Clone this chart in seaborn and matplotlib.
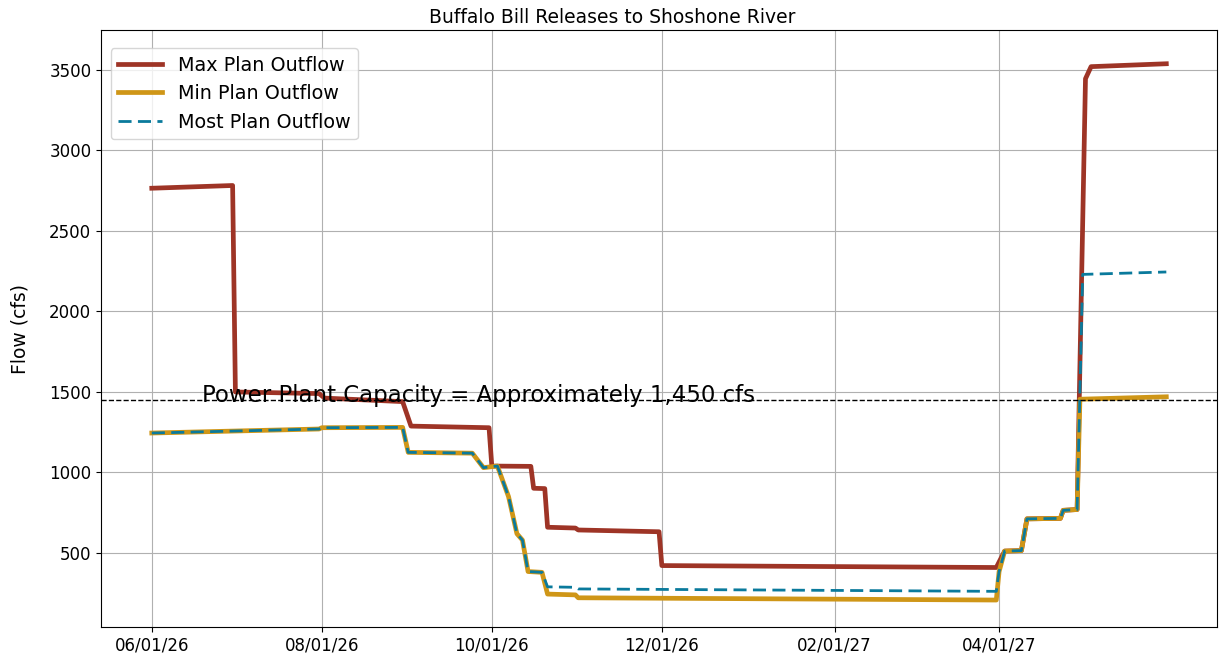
import seaborn as sns
import pandas as pd
import numpy as np
import matplotlib
matplotlib.use('Agg')
from matplotlib import pyplot as plt
import matplotlib.dates as mdates

# breakpoints of each plan (date, cfs)
max_dates = ['2026-06-01', '2026-06-30', '2026-07-01', '2026-07-31', '2026-08-02', '2026-08-30',
             '2026-09-02', '2026-09-30', '2026-10-01', '2026-10-15', '2026-10-16', '2026-10-20',
             '2026-10-21', '2026-10-31', '2026-11-01', '2026-11-30', '2026-12-01', '2027-03-31',
             '2027-04-03', '2027-04-09', '2027-04-11', '2027-04-23', '2027-04-24', '2027-04-29',
             '2027-05-02', '2027-05-04', '2027-05-31']
max_flow = [2765, 2782, 1500, 1490, 1462, 1440,
            1288, 1278, 1040, 1038, 902, 900,
            660, 655, 643, 632, 422, 410,
            512, 515, 712, 715, 765, 770,
            3445, 3520, 3538]

min_dates = ['2026-06-01', '2026-07-31', '2026-08-01', '2026-08-30', '2026-09-01', '2026-09-24',
             '2026-09-28', '2026-10-03', '2026-10-07', '2026-10-10', '2026-10-12', '2026-10-14',
             '2026-10-19', '2026-10-21', '2026-10-31', '2026-11-01', '2027-03-31', '2027-04-01',
             '2027-04-03', '2027-04-09', '2027-04-11', '2027-04-23', '2027-04-24', '2027-04-29',
             '2027-04-30', '2027-05-31']
min_flow = [1245, 1270, 1278, 1280, 1125, 1120,
            1030, 1040, 850, 620, 580, 385,
            380, 245, 240, 222, 208, 385,
            512, 515, 712, 715, 765, 770,
            1455, 1470]

most_dates = ['2026-06-01', '2026-07-31', '2026-08-01', '2026-08-30', '2026-09-01', '2026-09-24',
              '2026-09-28', '2026-10-03', '2026-10-07', '2026-10-10', '2026-10-12', '2026-10-14',
              '2026-10-19', '2026-10-21', '2026-10-31', '2026-11-01', '2027-03-31', '2027-04-01',
              '2027-04-03', '2027-04-09', '2027-04-11', '2027-04-23', '2027-04-24', '2027-04-29',
              '2027-05-01', '2027-05-31']
most_flow = [1245, 1270, 1278, 1280, 1125, 1120,
             1030, 1040, 850, 620, 580, 385,
             380, 290, 287, 277, 262, 385,
             512, 515, 712, 715, 765, 770,
             2230, 2245]

tick_dates = ['2026-06-01', '2026-08-01', '2026-10-01', '2026-12-01', '2027-02-01', '2027-04-01']

capacity = 1450
capacity_label = 'Power Plant Capacity = Approximately 1,450 cfs'

fig, ax = plt.subplots(figsize=(12.25, 6.65), dpi=100)
fig.subplots_adjust(left=0.0825, right=0.9935, bottom=0.057, top=0.955)

sns.lineplot(x=pd.to_datetime(max_dates), y=max_flow, ax=ax, color='#9E3426', lw=3.4,
             label='Max Plan Outflow')
sns.lineplot(x=pd.to_datetime(min_dates), y=min_flow, ax=ax, color='#CF9617', lw=3.4,
             label='Min Plan Outflow')
sns.lineplot(x=pd.to_datetime(most_dates), y=most_flow, ax=ax, color='#0A7A9C', lw=2,
             linestyle=(0, (4.7, 2.3)), label='Most Plan Outflow')

ax.axhline(capacity, color='black', ls='--', lw=1)
ax.text(pd.Timestamp('2026-06-19'), capacity - 15, capacity_label, fontsize=16.5)

ax.set_ylim(40, 3748)
ax.set_xticks(pd.to_datetime(tick_dates))
ax.xaxis.set_major_formatter(mdates.DateFormatter('%m/%d/%y'))
ax.tick_params(labelsize=12)
ax.grid(True)
fig.suptitle('Buffalo Bill Releases to Shoshone River', fontsize=13.5, y=0.973, va='center')
ax.set_ylabel('Flow (cfs)', fontsize=13.5, labelpad=14)
ax.set_xlabel('')
ax.legend(loc='upper left', fontsize=13.8, handlelength=2.3, bbox_to_anchor=(0.0, 0.986))

plt.savefig('out.png')
